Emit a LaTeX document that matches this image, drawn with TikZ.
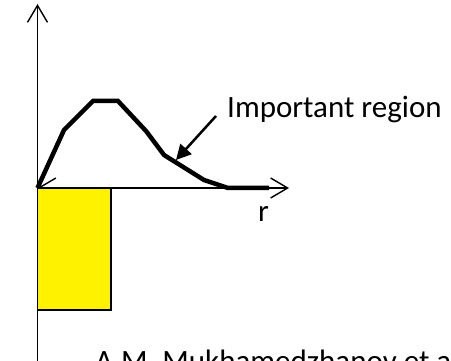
\documentclass[tikz,border=0pt]{standalone}
\usepackage{fontspec}
\setmainfont{Carlito}
\usetikzlibrary{arrows.meta}
\begin{document}
\begin{tikzpicture}[x=1pt,y=-1pt,
  axis/.style={line width=1.4pt,-{Straight Barb[length=17pt,width=20pt,line width=1.4pt]}},
  curve/.style={line width=4.5pt,line join=miter},
  pointer/.style={line width=2.5pt,-{Triangle[length=15pt,width=15pt]}},
  lbl/.style={inner sep=0pt,font=\fontsize{31}{36}\selectfont}]
\useasboundingbox (0,0) rectangle (451,361);
\clip (0,0) rectangle (451,361);
\fill[white] (0,0) rectangle (451,361);
% axes
\coordinate (O) at (37.5,188);
\coordinate (ytop) at (37.5,4);
\coordinate (ybot) at (37.5,361);
\coordinate (xend) at (289,188);
\draw[axis] (ybot) -- (ytop);
\draw[line width=1.4pt,{Straight Barb[length=17pt,width=20pt,line width=1.4pt]}-{Straight Barb[length=17pt,width=20pt,line width=1.4pt]}] (O) -- (xend);
% yellow rectangle
\draw[fill=yellow,line width=1.2pt] (37.5,188) rectangle (111,310);
% curve
\draw[curve] (O) -- (64,130) -- (93,101) -- (118,101) -- (146,131) -- (164,155) -- (204,180) -- (228,188) -- (269,188);
% labels
\node[lbl,anchor=base west] (imp) at (227,118) {Important region};
\node[lbl,anchor=base west] (r) at (258,222) {r};
\node[lbl,anchor=base west] (auth) at (95,372) {A.M. Mukhamedzhanov et al.};
% pointer
\coordinate (ps) at (216,116);
\coordinate (pe) at (176,160);
\draw[pointer] (ps) -- (pe);
\end{tikzpicture}
\end{document}
